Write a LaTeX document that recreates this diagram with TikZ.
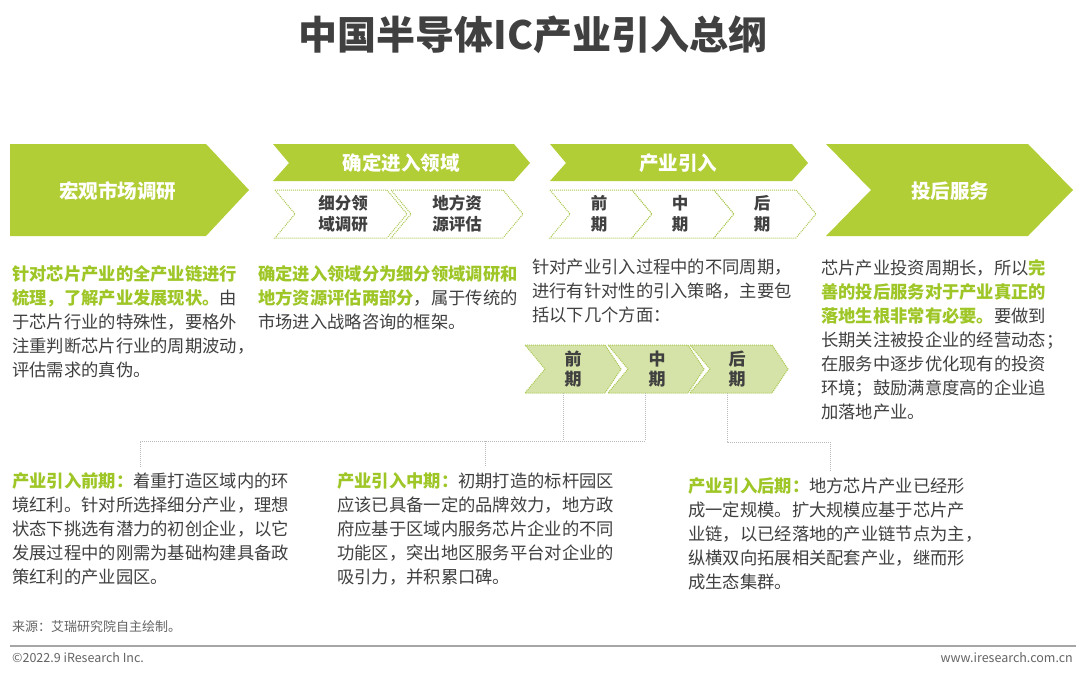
\documentclass[tikz,border=0pt]{standalone}
\usepackage{fontspec}
\setmainfont{Noto Sans CJK SC}
\definecolor{arrowgreen}{RGB}{178,206,55}
\definecolor{textgreen}{RGB}{158,198,38}
\definecolor{lightgreen}{RGB}{213,227,168}
\definecolor{dotgreen}{RGB}{170,200,80}
\definecolor{txt}{RGB}{64,64,64}
\definecolor{linegray}{RGB}{185,185,185}
\definecolor{footgray}{RGB}{100,100,100}
\tikzset{
  bigarrow/.style={fill=arrowgreen,draw=none},
  subchev/.style={fill=white,draw=dotgreen,line width=1pt,dash pattern=on 1pt off 1pt},
  lowchev/.style={fill=lightgreen,draw=dotgreen,line width=1pt,dash pattern=on 1pt off 1pt},
  conn/.style={draw=linegray,line width=0.9pt,dash pattern=on 1pt off 1pt},
  whitelabel/.style={text=white,font={\fontsize{19.5}{22}\selectfont\bfseries},inner sep=0pt},
  sublabel/.style={text=txt,font={\fontsize{16.5}{21}\selectfont\bfseries},align=center,inner sep=0pt},
  lowlabel/.style={text=txt,font={\fontsize{17}{20}\selectfont\bfseries},align=center,inner sep=0pt},
  body/.style={text=txt,font={\fontsize{17.3}{24}\selectfont},align=left,anchor=north west,inner sep=0pt},
}
\newcommand\hl[1]{\textcolor{textgreen}{\bfseries #1}}
\begin{document}
\begin{tikzpicture}[x=1pt,y=-1pt]
\useasboundingbox (0,0) rectangle (1080,680);
\fill[white] (0,0) rectangle (1080,680);

% title
\node[text=txt,font={\fontsize{39}{44}\selectfont\bfseries},inner sep=0pt] (title) at (533,35) {中国半导体IC产业引入总纲};

% top row shapes
\path[bigarrow] (10,144) -- (206,144) -- (249,190) -- (206,236) -- (10,236) -- cycle;
\path[bigarrow] (273,144) -- (514,144) -- (530,163) -- (514,181) -- (273,181) -- (289,163) -- cycle;
\path[bigarrow] (550,144) -- (792,144) -- (808,163) -- (792,181) -- (550,181) -- (566,163) -- cycle;
\path[bigarrow] (826,144) -- (1028,144) -- (1073,190) -- (1028,236) -- (826,236) -- (871,190) -- cycle;

\path[subchev] (275,190) -- (387,190) -- (407,214) -- (387,238) -- (275,238) -- (295,214) -- cycle;
\path[subchev] (391,190) -- (503,190) -- (523,214) -- (503,238) -- (391,238) -- (411,214) -- cycle;
\path[subchev] (550,190) -- (632,190) -- (652,214) -- (632,238) -- (550,238) -- (570,214) -- cycle;
\path[subchev] (632,190) -- (714,190) -- (734,214) -- (714,238) -- (632,238) -- (652,214) -- cycle;
\path[subchev] (714,190) -- (796,190) -- (816,214) -- (796,238) -- (714,238) -- (734,214) -- cycle;

\node[whitelabel] (macro) at (118,191) {宏观市场调研};
\node[whitelabel] (field) at (401,163) {确定进入领域};
\node[whitelabel] (intro) at (678,163) {产业引入};
\node[whitelabel] (post) at (950,191) {投后服务};
\node[sublabel] (subA) at (343,214) {细分领\\域调研};
\node[sublabel] (subB) at (457,214) {地方资\\源评估};
\node[sublabel] (subC) at (599,214) {前\\期};
\node[sublabel] (subD) at (680,214) {中\\期};
\node[sublabel] (subE) at (762,214) {后\\期};

% lower chevrons
\path[lowchev] (525,345) -- (605,345) -- (621,369) -- (605,393) -- (525,393) -- (545,369) -- cycle;
\path[lowchev] (608,345) -- (688,345) -- (704,369) -- (688,393) -- (608,393) -- (628,369) -- cycle;
\path[lowchev] (690,345) -- (772,345) -- (788,369) -- (772,393) -- (690,393) -- (710,369) -- cycle;
\node[lowlabel] (lowA) at (573,369) {前\\期};
\node[lowlabel] (lowB) at (657,369) {中\\期};
\node[lowlabel] (lowC) at (737,369) {后\\期};

% connector points
\coordinate (cA) at (563,393);
\coordinate (cB) at (645,393);
\coordinate (cC) at (727,393);
\coordinate (jB) at (645,441);
\coordinate (jL) at (140,441);
\coordinate (jM) at (485,441);
\coordinate (eL) at (140,467);
\coordinate (eM) at (485,467);
\coordinate (jC) at (727,442);
\coordinate (jR) at (830,442);
\coordinate (eR) at (830,471);
\draw[conn] (cA) -- (cA |- jB);
\draw[conn] (cB) -- (jB) -- (jL) -- (eL);
\draw[conn] (jM) -- (eM);
\draw[conn] (cC) -- (jC) -- (jR) -- (eR);

% text blocks
\node[body] (t1) at (12,265) {\hl{针对芯片产业的全产业链进行}\\\hl{梳理，了解产业发展现状。}由\\于芯片行业的特殊性，要格外\\注重判断芯片行业的周期波动，\\评估需求的真伪。};
\node[body] (t2) at (258,265) {\hl{确定进入领域分为细分领域调研和}\\\hl{地方资源评估两部分}，属于传统的\\市场进入战略咨询的框架。};
\node[body] (t3) at (532,259) {针对产业引入过程中的不同周期，\\进行有针对性的引入策略，主要包\\括以下几个方面：};
\node[body] (t4) at (821,259) {芯片产业投资周期长，所以\hl{完}\\\hl{善的投后服务对于产业真正的}\\\hl{落地生根非常有必要。}要做到\\长期关注被投企业的经营动态；\\在服务中逐步优化现有的投资\\环境；鼓励满意度高的企业追\\加落地产业。};
\node[body] (t5) at (12,472) {\hl{产业引入前期：}着重打造区域内的环\\境红利。针对所选择细分产业，理想\\状态下挑选有潜力的初创企业，以它\\发展过程中的刚需为基础构建具备政\\策红利的产业园区。};
\node[body] (t6) at (337,472) {\hl{产业引入中期：}初期打造的标杆园区\\应该已具备一定的品牌效力，地方政\\府应基于区域内服务芯片企业的不同\\功能区，突出地区服务平台对企业的\\吸引力，并积累口碑。};
\node[body] (t7) at (688,477) {\hl{产业引入后期：}地方芯片产业已经形\\成一定规模。扩大规模应基于芯片产\\业链，以已经落地的产业链节点为主，\\纵横双向拓展相关配套产业，继而形\\成生态集群。};

% footer
\node[text=footgray,font={\fontsize{13}{15}\selectfont},anchor=west,inner sep=0pt] (src) at (12,627) {来源：艾瑞研究院自主绘制。};
\coordinate (ruleL) at (10,646);
\coordinate (ruleR) at (1076,646);
\draw[draw=black!35,line width=1.2pt] (ruleL) -- (ruleR);
\node[text=footgray,font={\fontsize{12.5}{15}\selectfont},anchor=west,inner sep=0pt] (copy) at (12,658) {©2022.9 iResearch Inc.};
\node[text=footgray,font={\fontsize{12.5}{15}\selectfont},anchor=east,inner sep=0pt] (web) at (1073,658) {www.iresearch.com.cn};
\end{tikzpicture}
\end{document}
